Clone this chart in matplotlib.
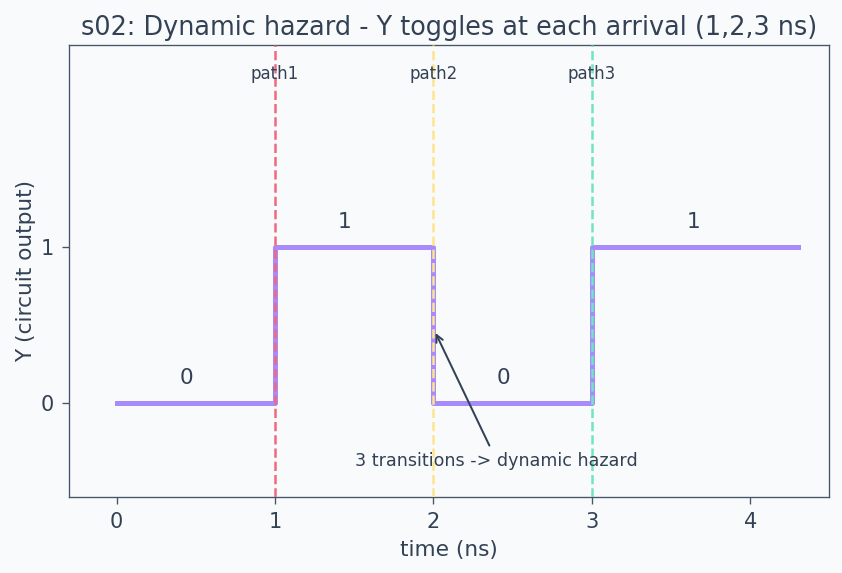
import matplotlib
matplotlib.use("Agg")
import matplotlib.pyplot as plt

# Data
t_edges = [0, 1, 2, 3, 4.3]
y_vals = [0, 1, 0, 1, 1]
arrivals = [1, 2, 3]
arrival_labels = ["path1", "path2", "path3"]
arrival_colors = ["#f0697f", "#fde58f", "#6ee7c0"]
level_text_x = [0.44, 1.44, 2.445, 3.64]
level_text = ["0", "1", "0", "1"]
level_text_y = [0.16, 1.16, 0.16, 1.16]

BG = "#f8fafc"
TXT = "#334155"
SP = "#475569"
PURPLE = "#a78bfa"

DPI = 120
fig = plt.figure(figsize=(842 / DPI, 573 / DPI), dpi=DPI, facecolor=BG)
ax = fig.add_axes([0.082, 0.133, 0.903, 0.789])
ax.set_facecolor(BG)

ax.plot(t_edges, y_vals, drawstyle="steps-post", color=PURPLE, lw=3, zorder=2)

for xa, lab, c in zip(arrivals, arrival_labels, arrival_colors):
    ax.axvline(xa, color=c, ls="--", lw=1.5, zorder=3)
    ax.text(xa, 2.115, lab, ha="center", va="center", fontsize=10, color=TXT)

for xx, yy, s in zip(level_text_x, level_text_y, level_text):
    ax.text(xx, yy, s, ha="center", va="center", fontsize=13, color=TXT)

ax.annotate("3 transitions -> dynamic hazard", xy=(2.005, 0.47), xytext=(2.40, -0.37),
            ha="center", va="center", fontsize=10.5, color=TXT,
            arrowprops=dict(arrowstyle="->", color=TXT, lw=1.2))

ax.set_xlim(-0.3, 4.5)
ax.set_ylim(-0.6, 2.3)
ax.set_xticks([0, 1, 2, 3, 4])
ax.set_yticks([0, 1])
ax.tick_params(colors=SP, labelcolor=TXT, labelsize=12.5, length=4, pad=5)
for s in ax.spines.values():
    s.set_color(SP)
ax.set_xlabel("time (ns)", fontsize=13, color=TXT, labelpad=5)
ax.set_ylabel("Y (circuit output)", fontsize=13, color=TXT, labelpad=3)
ax.set_title("s02: Dynamic hazard - Y toggles at each arrival (1,2,3 ns)", fontsize=15.3, color=TXT)

fig.savefig("out.png", dpi=DPI, facecolor=BG)
